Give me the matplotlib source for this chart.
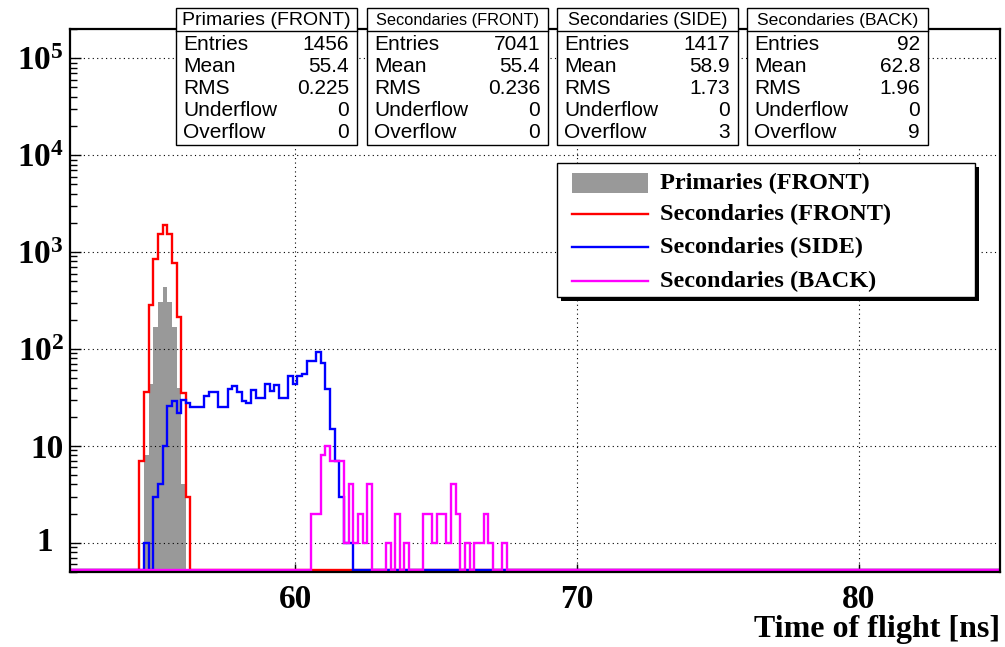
import numpy as np
import matplotlib.pyplot as plt
import matplotlib.transforms as mtransforms
from matplotlib.patches import Rectangle
from matplotlib.lines import Line2D
from matplotlib.ticker import FixedLocator, LogLocator, NullFormatter, FuncFormatter

plt.rcParams['mathtext.fontset'] = 'custom'
plt.rcParams['mathtext.rm'] = 'Liberation Serif:bold'
plt.rcParams['mathtext.it'] = 'Liberation Serif:bold'
plt.rcParams['mathtext.bf'] = 'Liberation Serif:bold'

W, H = 1005, 647

# binning of all four histograms (ns)
n_bins = 200
t_min, t_max = 52.0, 85.0

# counts per bin, each list starts at the given bin index
prim_first = 16
prim_counts = [8, 44, 170, 307, 438, 307, 170, 40, 4]

front_first = 15
front_counts = [7, 36, 285, 840, 1550, 1900, 1550, 770, 212, 35, 3]

side_first = 16
side_counts = [1, 0, 3, 4, 10, 26, 29, 22, 30, 28, 25, 25, 25, 33, 36, 36,
               25, 25, 39, 41, 36, 29, 28, 38, 31, 31, 44, 37, 42, 31, 31,
               53, 44, 52, 55, 75, 75, 92, 72, 39, 15, 7, 3, 1, 1]

back_first = 52
back_counts = [2, 2, 8, 10, 7, 7, 7, 1, 4, 1, 2, 1, 4, 0, 0, 0, 1, 0, 2, 0,
               1, 0, 0, 0, 2, 2, 1, 2, 2, 1, 4, 2, 0, 1, 0, 1, 1, 2, 1, 0,
               0, 1]

# stats boxes
stat_titles = ['Primaries (FRONT)', 'Secondaries (FRONT)',
               'Secondaries (SIDE)', 'Secondaries (BACK)']
stat_entries = ['1456', '7041', '1417', '92']
stat_mean = ['55.4', '55.4', '58.9', '62.8']
stat_rms = ['0.225', '0.236', '1.73', '1.96']
stat_under = ['0', '0', '0', '0']
stat_over = ['0', '0', '3', '9']
stat_rows = ['Entries', 'Mean', 'RMS', 'Underflow', 'Overflow']

legend_labels = ['Primaries (FRONT)', 'Secondaries (FRONT)',
                 'Secondaries (SIDE)', 'Secondaries (BACK)']

x_label = 'Time of flight [ns]'

GRAY = '#999999'
RED = '#ff0000'
BLUE = '#0000ff'
MAGENTA = '#ff00ff'

y_min, y_max = 0.5, 2.0e5
y_floor = 0.52


def make_hist(first, counts):
    h = np.zeros(n_bins)
    h[first:first + len(counts)] = counts
    return h


def fx(px):
    return px / W


def fy(py):
    return 1 - py / H


edges = np.linspace(t_min, t_max, n_bins + 1)
h_prim = make_hist(prim_first, prim_counts)
h_front = make_hist(front_first, front_counts)
h_side = make_hist(side_first, side_counts)
h_back = make_hist(back_first, back_counts)

fig = plt.figure(figsize=(W / 100, H / 100), dpi=100)
ax = fig.add_axes([fx(69.5), fy(572), fx(1000) - fx(69.5), fy(29) - fy(572)])
ax.set_yscale('log')
ax.set_xlim(t_min, t_max)
ax.set_ylim(y_min, y_max)

# histograms, drawn in ROOT order
ax.stairs(np.maximum(h_prim, y_floor), edges, baseline=y_floor, fill=True,
          color=GRAY, zorder=2)
ax.stairs(np.maximum(h_front, y_floor), edges, baseline=None, color=RED,
          lw=1.7, zorder=3)
ax.stairs(np.maximum(h_side, y_floor), edges, baseline=None, color=BLUE,
          lw=1.7, zorder=4)
ax.stairs(np.maximum(h_back, y_floor), edges, baseline=None, color=MAGENTA,
          lw=1.7, zorder=5)

# axes styling
for s in ax.spines.values():
    s.set_linewidth(1.6)
    s.set_zorder(6)
ax.xaxis.set_major_locator(FixedLocator([60, 70, 80]))
ax.xaxis.set_minor_locator(FixedLocator(np.arange(54, 85, 2)))
ax.yaxis.set_major_locator(LogLocator(base=10, numticks=10))
ax.yaxis.set_minor_locator(LogLocator(base=10, subs=np.arange(2, 10), numticks=10))
ax.yaxis.set_minor_formatter(NullFormatter())


def ylab(v, pos):
    e = int(round(np.log10(v)))
    if e == 0:
        return ''  # drawn separately, ROOT centres it
    if e == 1:
        return '10'
    return r'$10^{%d}$' % e


ax.yaxis.set_major_formatter(FuncFormatter(ylab))
ax.xaxis.set_major_formatter(FuncFormatter(lambda v, p: '%d' % v))
ax.tick_params(axis='both', which='both', direction='in', top=False, right=False)
ax.tick_params(axis='x', which='major', length=6, width=1, pad=9)
ax.tick_params(axis='x', which='minor', length=2.5, width=1)
ax.tick_params(axis='y', which='major', length=8, width=1, pad=4)
ax.tick_params(axis='y', which='minor', length=5, width=1)
for lab in ax.get_xticklabels() + ax.get_yticklabels():
    lab.set_fontfamily('Liberation Serif')
    lab.set_fontweight('bold')
    lab.set_fontsize(24)
ax.grid(True, which='major', color='black', lw=0.8, ls=(0, (1, 3)))
ax.set_axisbelow(False)

one_tr = mtransforms.blended_transform_factory(fig.transFigure, ax.transData)
ax.text(fx(45), 1, '1', transform=one_tr, ha='center', va='center',
        family='Liberation Serif', weight='bold', fontsize=24, clip_on=False)

fig.text(fx(1000), fy(629), x_label, ha='right', va='center',
         family='Liberation Serif', weight='bold', fontsize=23)

# stats boxes
box_left = [176, 367, 557, 747]
box_w = 181
title_size = [14, 11.8, 13, 12.6]
top, title_bot, bottom, row_h = 8, 31, 145, 22
for i in range(4):
    x0 = box_left[i]
    fig.add_artist(Rectangle((fx(x0), fy(bottom)), fx(box_w), (bottom - top) / H,
                             facecolor='white', edgecolor='black', lw=1,
                             transform=fig.transFigure, zorder=10))
    fig.add_artist(Line2D([fx(x0), fx(x0 + box_w)], [fy(title_bot)] * 2,
                          color='black', lw=1, transform=fig.transFigure, zorder=11))
    fig.text(fx(x0 + box_w / 2), fy((top + title_bot) / 2 + 1), stat_titles[i],
             ha='center', va='center', family='Liberation Sans',
             fontsize=title_size[i], zorder=12)
    vals = [stat_entries[i], stat_mean[i], stat_rms[i], stat_under[i], stat_over[i]]
    for j, name in enumerate(stat_rows):
        yc = 44 + j * row_h
        fig.text(fx(x0 + 7), fy(yc), name, ha='left', va='center',
                 family='Liberation Sans', fontsize=15, zorder=12)
        fig.text(fx(x0 + box_w - 8), fy(yc), vals[j], ha='right', va='center',
                 family='Liberation Sans', fontsize=15, zorder=12)

# legend (ROOT style with black shadow)
lx0, ly0, lx1, ly1 = 557, 163, 975, 297
fig.add_artist(Rectangle((fx(lx0 + 4), fy(ly1 + 4)), fx(lx1 - lx0), (ly1 - ly0) / H,
                         facecolor='black', edgecolor='black', lw=0,
                         transform=fig.transFigure, zorder=10))
fig.add_artist(Rectangle((fx(lx0), fy(ly1)), fx(lx1 - lx0), (ly1 - ly0) / H,
                         facecolor='white', edgecolor='black', lw=1,
                         transform=fig.transFigure, zorder=11))
row_y = [183, 214, 247, 281]
fig.add_artist(Rectangle((fx(572), fy(193)), fx(76), 20 / H, facecolor=GRAY,
                         edgecolor='none', transform=fig.transFigure, zorder=12))
for yy, c in zip(row_y[1:], [RED, BLUE, MAGENTA]):
    fig.add_artist(Line2D([fx(572), fx(648)], [fy(yy)] * 2, color=c, lw=1.7,
                          transform=fig.transFigure, zorder=12))
for yy, lab in zip(row_y, legend_labels):
    fig.text(fx(660), fy(yy), lab, ha='left', va='center',
             family='Liberation Serif', weight='bold', fontsize=17.5, zorder=12)

fig.savefig('out.png', dpi=100)
